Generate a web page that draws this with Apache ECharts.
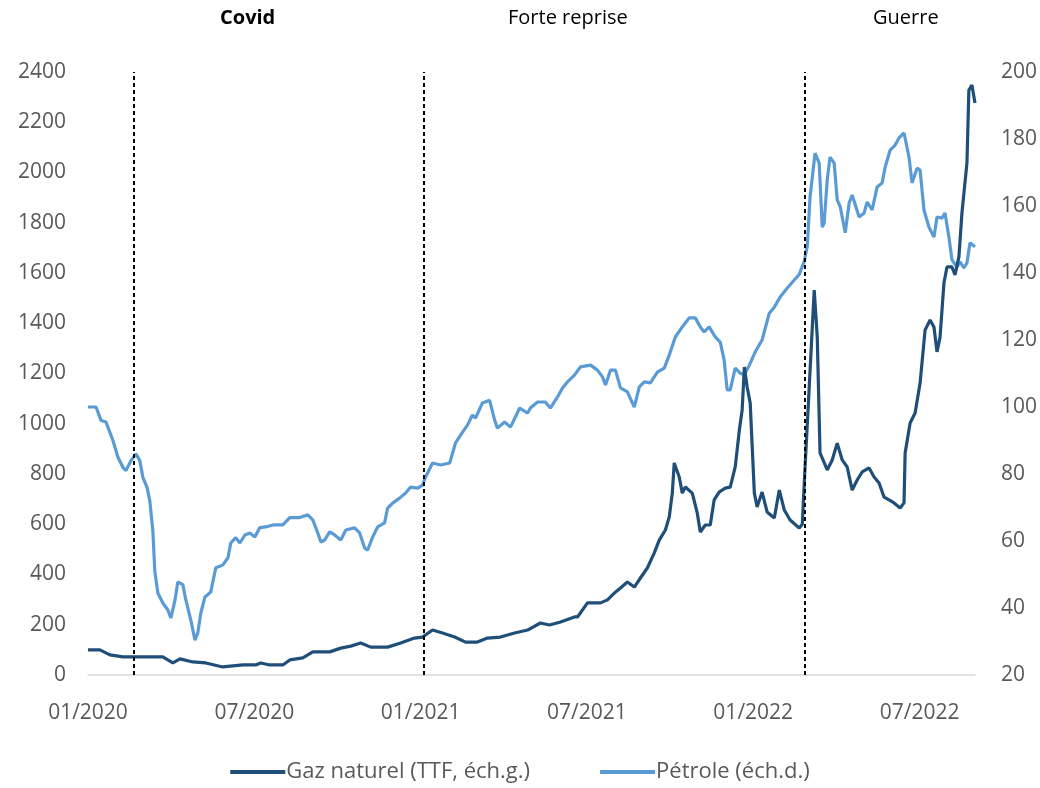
<!DOCTYPE html>
<html>
<head>
<meta charset="utf-8">
<title>Gaz et pétrole</title>
<script src="https://cdn.jsdelivr.net/npm/echarts@6/dist/echarts.min.js"></script>
<style>
body{margin:0;background:#fff;}
#main{width:1040px;height:788px;}
</style>
</head>
<body>
<div id="main"></div>
<script>
// mois depuis 01/2020
var tickLabels = ['01/2020', '07/2020', '01/2021', '07/2021', '01/2022', '07/2022'];
var events = ['Covid', 'Forte reprise', 'Guerre'];
var eventMonths = [1.66, 12.1, 25.85];

// Gaz naturel (TTF), indice, échelle gauche
var gazMonths = [0.00,0.43,0.79,1.26,2.23,2.70,3.06,3.32,3.78,4.25,4.86,5.59,6.05,6.23,6.56,7.03,7.28,7.75,8.11,8.72,
  9.12,9.48,9.84,10.20,10.81,11.28,11.78,12.07,12.43,12.79,13.23,13.62,14.05,14.41,14.88,15.39,15.86,16.32,16.65,17.05,
  17.55,17.66,18.02,18.49,18.74,18.99,19.21,19.46,19.71,19.93,20.18,20.43,20.61,20.83,20.97,21.08,21.15,21.33,21.44,21.55,
  21.80,21.98,22.09,22.27,22.45,22.59,22.77,22.99,23.17,23.35,23.50,23.60,23.68,23.78,23.89,24.04,24.14,24.32,24.50,24.76,
  24.94,25.12,25.33,25.66,25.77,25.84,26.02,26.20,26.31,26.41,26.67,26.85,27.03,27.21,27.39,27.57,27.75,27.93,28.18,28.36,
  28.54,28.72,28.90,29.08,29.30,29.44,29.48,29.66,29.84,30.02,30.20,30.38,30.52,30.63,30.74,30.88,30.99,31.17,31.28,31.42,
  31.53,31.71,31.78,31.89,32.00];
var gazValues = [100,100,80,72,72,72,48,64,52,48,32,40,40,48,40,40,60,68,92,92,
  107,115,127,111,111,127,147,151,179,167,151,131,131,147,151,167,179,207,199,211,
  231,231,287,287,299,326,346,370,350,386,426,486,537,577,629,724,844,788,724,748,
  724,645,569,597,597,697,728,744,748,828,975,1055,1226,1146,1083,724,669,728,649,625,
  736,657,617,585,600,764,1146,1532,1345,884,816,856,923,856,828,736,776,808,824,788,
  764,708,697,685,665,685,884,1003,1043,1162,1373,1413,1385,1286,1345,1560,1624,1624,1592,1664,
  1839,2038,2328,2348,2277];

// Pétrole, indice, échelle droite
var petroleMonths = [0.00,0.29,0.47,0.65,0.90,1.08,1.26,1.37,1.55,1.73,1.87,1.98,2.13,2.23,2.34,2.41,2.52,2.70,2.88,2.99,
  3.14,3.24,3.42,3.53,3.71,3.86,3.96,4.07,4.22,4.43,4.61,4.86,5.05,5.15,5.33,5.48,5.66,5.84,6.02,6.20,
  6.41,6.67,7.03,7.28,7.64,7.93,8.11,8.29,8.40,8.54,8.72,8.90,9.12,9.30,9.62,9.80,9.98,10.09,10.27,10.45,
  10.70,10.81,10.99,11.24,11.46,11.64,11.89,12.07,12.18,12.43,12.72,13.05,13.26,13.44,13.69,13.87,13.98,14.23,14.49,14.67,
  14.77,15.03,15.24,15.42,15.57,15.86,15.96,16.22,16.50,16.68,16.94,17.12,17.30,17.55,17.77,18.13,18.38,18.56,18.67,18.85,
  19.03,19.21,19.46,19.64,19.71,19.89,20.07,20.29,20.54,20.79,20.97,21.19,21.44,21.69,21.91,22.09,22.23,22.41,22.63,22.81,
  22.95,23.06,23.17,23.35,23.53,23.68,23.86,24.07,24.32,24.58,24.76,24.97,25.23,25.48,25.66,25.84,25.95,26.05,26.23,26.38,
  26.49,26.56,26.67,26.77,26.92,27.03,27.14,27.32,27.46,27.57,27.82,28.00,28.11,28.29,28.47,28.65,28.76,28.94,29.12,29.26,
  29.44,29.62,29.73,29.91,30.02,30.16,30.34,30.52,30.63,30.81,30.92,31.06,31.17,31.35,31.46,31.60,31.71,31.82,32.00];
var petroleValues = [100,100,96,95.5,90,85,82,81,84,86,84,79,76,72,63,51,44.5,41.5,39.4,37,
  42.4,47.8,47,42.4,36.4,30.4,32.5,38.5,43.3,44.8,52,52.8,55,59.4,61,59.4,61.8,62.4,61.2,64,
  64.2,64.8,64.8,67,67,67.8,66.3,62.4,59.7,60.3,62.7,61.8,60.3,63.3,63.9,62.4,57.9,57.3,61.2,64.2,
  65.4,69.8,71.3,72.8,74.3,76.1,75.8,76.7,79.1,83.3,82.7,83.3,89.3,91.6,94.6,97.6,96.7,101.2,102,96.1,
  93.7,95.5,94,97,99.7,98.2,99.7,101.5,101.5,99.7,103,105.7,107.5,109.5,112,112.5,111,109,106.6,111,
  111,105.7,104.5,101.2,100,106,107.5,107.2,110.4,111.6,115.5,120.9,123.9,126.6,126.6,123.9,122.4,123.9,120.9,119.4,
  114,105.1,105.1,111.6,110.1,109.6,112.5,116.4,120,128,129.8,132.8,135.5,137.9,139.6,143.5,148,162.7,175.8,172.8,
  153.7,155,167.8,174.6,172.8,161.8,159.7,152,160.9,163.3,156.7,157.9,161.2,158.8,165.7,166.9,171.6,176.7,178.2,180.3,
  181.8,174.6,166.9,171.3,170.7,158.8,153.7,150.7,156.7,156.4,157.9,150.7,143.9,141.8,143.3,141.5,143,149,147.8];

function pairs(xs, ys) {
	var out = [];
	for (var i = 0; i < xs.length; i++) out.push([xs[i], ys[i]]);
	return out;
}

var font = 'Open Sans';
var myChart = echarts.init(document.getElementById('main'));

var option = {
	animation: false,
	textStyle: { fontFamily: font },
	grid: { left: 88, right: 65, top: 72, bottom: 113 },
	legend: {
		bottom: 0,
		left: 'center',
		itemWidth: 55,
		itemHeight: 4,
		itemGap: 70,
		icon: 'rect',
		textStyle: { color: '#595959', fontSize: 22, fontFamily: font, padding: [0, 0, 0, -4] },
		data: ['Gaz naturel (TTF, éch.g.)', 'Pétrole (éch.d.)']
	},
	graphic: [
		{ type: 'text', left: 220, top: 8, style: { text: events[0], font: 'bold 20px ' + font, fill: '#000' } },
		{ type: 'text', left: 508, top: 8, style: { text: events[1], font: '20px ' + font, fill: '#000' } },
		{ type: 'text', left: 873, top: 8, style: { text: events[2], font: '20px ' + font, fill: '#000' } }
	],
	xAxis: {
		type: 'value',
		min: 0,
		max: 32,
		interval: 6,
		splitLine: { show: false },
		axisTick: { show: false },
		axisLine: { lineStyle: { color: '#d9d9d9', width: 1.5 } },
		axisLabel: {
			color: '#595959',
			fontSize: 21,
			margin: 28,
			showMaxLabel: false,
			formatter: function (v) {
				return v % 6 === 0 ? tickLabels[v / 6] : '';
			}
		}
	},
	yAxis: [{
		type: 'value',
		min: 0,
		max: 2400,
		interval: 200,
		splitLine: { show: false },
		axisLine: { show: false },
		axisTick: { show: false },
		axisLabel: { color: '#595959', fontSize: 21, margin: 22, formatter: function (v) { return String(v); } }
	}, {
		type: 'value',
		min: 20,
		max: 200,
		interval: 20,
		splitLine: { show: false },
		axisLine: { show: false },
		axisTick: { show: false },
		axisLabel: { color: '#595959', fontSize: 21, margin: 26 }
	}],
	series: [{
		name: 'Gaz naturel (TTF, éch.g.)',
		type: 'line',
		yAxisIndex: 0,
		showSymbol: false,
		symbol: 'none',
		color: '#1f4e79',
		lineStyle: { width: 3.2, color: '#1f4e79' },
		data: pairs(gazMonths, gazValues),
		markLine: {
			silent: true,
			symbol: 'none',
			label: { show: false },
			lineStyle: { color: '#000', type: [4, 3], width: 2 },
			data: eventMonths.map(function (m) { return { xAxis: m }; })
		},
		z: 3
	}, {
		name: 'Pétrole (éch.d.)',
		type: 'line',
		yAxisIndex: 1,
		showSymbol: false,
		symbol: 'none',
		color: '#5b9bd5',
		lineStyle: { width: 3.2, color: '#5b9bd5' },
		data: pairs(petroleMonths, petroleValues),
		z: 2
	}]
};
myChart.setOption(option);
</script>
</body>
</html>
